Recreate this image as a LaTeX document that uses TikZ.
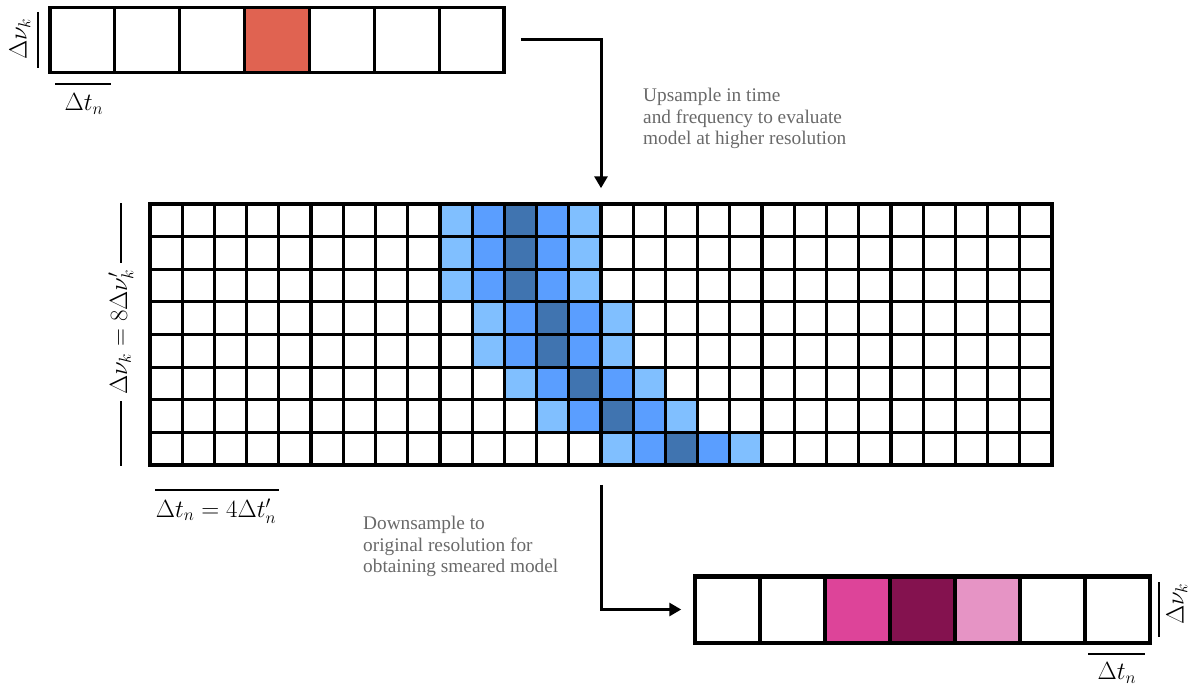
\documentclass[tikz,border=0pt]{standalone}
\usepackage[no-math]{fontspec}
\newfontfamily\notefont{Liberation Serif}
\usetikzlibrary{arrows.meta}

\definecolor{hotred}{RGB}{224,99,81}
\definecolor{bluelight}{RGB}{128,191,255}
\definecolor{bluemid}{RGB}{90,158,255}
\definecolor{bluedark}{RGB}{64,116,176}
\definecolor{pinkmid}{RGB}{221,68,153}
\definecolor{pinkdark}{RGB}{132,18,79}
\definecolor{pinklight}{RGB}{230,148,197}
\definecolor{notegray}{RGB}{105,105,105}

\tikzset{
  barcell/.style={draw=black, line width=3pt, minimum width=64.9pt, minimum height=65pt, inner sep=0pt},
  gridline/.style={draw=black, line width=3.2pt},
  arr/.style={draw=black, line width=3pt, -{Triangle[width=13pt,length=12pt]}},
  dimline/.style={draw=black, line width=1.3pt},
  mathlbl/.style={font=\fontsize{24}{28}\selectfont, inner sep=1pt},
  note/.style={font=\notefont\fontsize{19.3}{21.7}\selectfont, text=notegray, align=left, anchor=north west, inner sep=0pt}
}

\begin{document}
\begin{tikzpicture}[x=1pt, y=-1pt]
\useasboundingbox (0,0) rectangle (1191,685);

% coarse input row (7 bins)
\foreach \c/\col in {0/white,1/white,2/white,3/hotred,4/white,5/white,6/white}{
  \node[barcell, fill=\col] (top\c) at ({50+64.86*\c+32.43}, 40) {};
}
\node[draw=black, line width=3.5pt, minimum width=454pt, minimum height=65pt, inner sep=0pt] (topbar) at (277, 40) {};

\draw[dimline] (38,12) -- (38,68);
\node[mathlbl, rotate=90, font=\fontsize{25}{29}\selectfont] (topnu) at (20,39) {$\Delta\nu_k$};
\draw[dimline] (55,84) -- (111,84);
\node[mathlbl] (toptn) at (84,104) {$\Delta t_n$};

% fine grid (28 x 8)
\def\cw{32.214}
\def\ch{32.625}
\foreach \r/\s in {0/9,1/9,2/9,3/10,4/10,5/11,6/12,7/14}{
  \foreach \k/\col in {0/bluelight,1/bluemid,2/bluedark,3/bluemid,4/bluelight}{
    \fill[\col] ({150+(\s+\k)*\cw}, {204+\r*\ch}) rectangle ++(\cw, \ch);
  }
}
\foreach \c in {1,...,27}{
  \draw[gridline] ({150+\c*\cw}, 204) -- ({150+\c*\cw}, 465);
}
\foreach \r in {1,...,7}{
  \draw[gridline] (150, {204+\r*\ch}) -- (1052, {204+\r*\ch});
}
\node[draw=black, line width=3.5pt, minimum width=902pt, minimum height=261pt, inner sep=0pt] (grid) at (601, 334.5) {};

\draw[dimline] (121,203) -- (121,466);
\node[mathlbl, rotate=90, fill=white, inner sep=6pt] (gridnu) at (121,332) {$\Delta\nu_k = 8\Delta\nu'_k$};
\draw[dimline] (155,490) -- (279,490);
\node[mathlbl] (gridtn) at (216,511) {$\Delta t_n = 4\Delta t'_n$};

% smeared output row (7 bins)
\foreach \c/\col in {0/white,1/white,2/pinkmid,3/pinkdark,4/pinklight,5/white,6/white}{
  \node[barcell, fill=\col] (bot\c) at ({695+65*\c+32.5}, 609.5) {};
}
\node[draw=black, line width=3.5pt, minimum width=455pt, minimum height=67pt, inner sep=0pt] (botbar) at (922.5, 609.5) {};

\draw[dimline] (1159,582) -- (1159,637);
\node[mathlbl, rotate=90] (botnu) at (1177,604) {$\Delta\nu_k$};
\draw[dimline] (1088,654) -- (1145,654);
\node[mathlbl] (bottn) at (1117,673) {$\Delta t_n$};

% processing steps
\draw[arr] ([xshift=15pt]topbar.east) -| ([yshift=14pt]grid.north);
\draw[arr] ([yshift=-18pt]grid.south) |- ([xshift=-12pt]botbar.west);

\node[note] (upnote) at (643,88) {Upsample in time\\and frequency to evaluate\\model at higher resolution};
\node[note] (downnote) at (363,516) {Downsample to\\original resolution for\\obtaining smeared model};
\end{tikzpicture}
\end{document}
